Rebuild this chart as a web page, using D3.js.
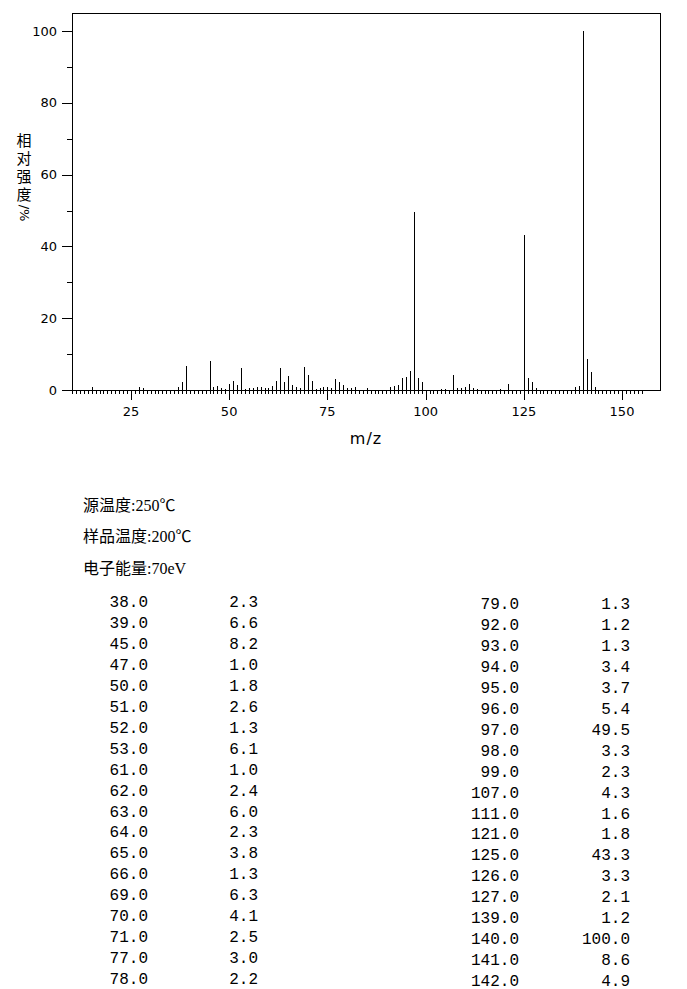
<!DOCTYPE html>
<html>
<head>
<meta charset="utf-8">
<script src="https://cdn.jsdelivr.net/npm/d3@7"></script>
<style>
  body { margin: 0; background: #fff; }
  svg { display: block; }
</style>
</head>
<body>
<div id="chart"></div>
<script>
// ----- data -----

// peaks listed in the table (m/z, relative intensity %)
let tableMz = [38, 39, 45, 47, 50, 51, 52, 53, 61, 62, 63, 64, 65, 66, 69, 70, 71, 77, 78,
               79, 92, 93, 94, 95, 96, 97, 98, 99, 107, 111, 121, 125, 126, 127, 139, 140, 141, 142];
let tableInt = [2.3, 6.6, 8.2, 1.0, 1.8, 2.6, 1.3, 6.1, 1.0, 2.4, 6.0, 2.3, 3.8, 1.3, 6.3, 4.1, 2.5, 3.0, 2.2,
                1.3, 1.2, 1.3, 3.4, 3.7, 5.4, 49.5, 3.3, 2.3, 4.3, 1.6, 1.8, 43.3, 3.3, 2.1, 1.2, 100.0, 8.6, 4.9];

// small peaks only seen in the spectrum
let minorMz = [15, 27, 28, 37, 46, 48, 49, 54, 55, 56, 57, 58, 59, 60, 67, 68, 72, 73, 74, 75, 76,
               80, 81, 82, 85, 91, 104, 105, 108, 109, 110, 112, 113, 119, 128, 138, 143];
let minorInt = [0.9, 0.9, 0.6, 0.9, 0.9, 0.5, 0.4, 0.4, 0.5, 0.5, 0.8, 0.8, 0.5, 0.5, 0.8, 0.5, 0.4, 0.5, 0.8, 0.7, 0.5,
                0.6, 0.6, 0.8, 0.6, 0.8, 0.4, 0.4, 0.5, 0.5, 0.7, 0.6, 0.4, 0.4, 0.5, 0.8, 0.8];

let yTicks = [0, 20, 40, 60, 80, 100];
let xTicks = [25, 50, 75, 100, 125, 150];

let infoLines = ["源温度:250℃", "样品温度:200℃", "电子能量:70eV"];

// ----- chart -----

let svgWidth = 687;
let svgHeight = 989;

let svg = d3.select("#chart")
    .append("svg")
    .attr("width", svgWidth)
    .attr("height", svgHeight);

let plotLeft = 72, plotRight = 660, plotTop = 13, base = 390;

let x = d3.scaleLinear().domain([10, 160]).range([72, 661.3]);
let y = d3.scaleLinear().domain([0, 100]).range([base, 31]);

let peaks = [];
for (let i = 0; i < tableMz.length; i++) peaks.push({ mz: tableMz[i], v: tableInt[i] });
for (let i = 0; i < minorMz.length; i++) peaks.push({ mz: minorMz[i], v: minorInt[i] });

let crisp = v => Math.round(v) + 0.5;

// frame
svg.append("path")
    .attr("d", `M${crisp(plotLeft)},${base + 4} V${crisp(plotTop)} H${crisp(plotRight)} V${crisp(base)}`)
    .attr("fill", "none")
    .attr("stroke", "#000")
    .attr("stroke-width", 1)
    .attr("shape-rendering", "crispEdges");

// y axis ticks
let yAll = d3.range(0, 101, 10);
svg.append("g")
    .selectAll("line")
    .data(yAll)
    .enter()
    .append("line")
    .attr("x1", d => d % 20 == 0 ? plotLeft - 10 : plotLeft - 5)
    .attr("x2", plotLeft)
    .attr("y1", d => crisp(y(d)))
    .attr("y2", d => crisp(y(d)))
    .attr("stroke", "#000")
    .attr("shape-rendering", "crispEdges");

svg.append("g")
    .selectAll("text")
    .data(yTicks)
    .enter()
    .append("text")
    .attr("x", 57)
    .attr("y", d => y(d))
    .attr("dy", "0.36em")
    .attr("text-anchor", "end")
    .style("font-family", "DejaVu Sans, sans-serif")
    .style("font-size", "13px")
    .text(d => d);

// baseline
svg.append("line")
    .attr("x1", plotLeft)
    .attr("x2", plotRight)
    .attr("y1", crisp(base))
    .attr("y2", crisp(base))
    .attr("stroke", "#000")
    .attr("shape-rendering", "crispEdges");

// x axis ticks: every unit, longer at labelled values
let xAll = d3.range(11, 156, 1);
svg.append("g")
    .selectAll("line")
    .data(xAll)
    .enter()
    .append("line")
    .attr("x1", d => crisp(x(d)))
    .attr("x2", d => crisp(x(d)))
    .attr("y1", base)
    .attr("y2", d => d % 25 == 0 ? base + 10 : base + 4)
    .attr("stroke", "#000")
    .attr("shape-rendering", "crispEdges");

svg.append("g")
    .selectAll("text")
    .data(xTicks)
    .enter()
    .append("text")
    .attr("x", d => x(d))
    .attr("y", 416)
    .attr("text-anchor", "middle")
    .style("font-family", "DejaVu Sans, sans-serif")
    .style("font-size", "13px")
    .text(d => d);

// peaks
svg.append("g")
    .selectAll("line")
    .data(peaks)
    .enter()
    .append("line")
    .attr("x1", d => crisp(x(d.mz)))
    .attr("x2", d => crisp(x(d.mz)))
    .attr("y1", base)
    .attr("y2", d => y(d.v))
    .attr("stroke", "#000")
    .attr("shape-rendering", "crispEdges");

// axis titles
svg.append("text")
    .attr("x", 366)
    .attr("y", 444)
    .attr("text-anchor", "middle")
    .style("font-family", "DejaVu Sans, sans-serif")
    .style("font-size", "16px")
    .style("letter-spacing", "1px")
    .text("m/z");

// vertical label: stacked upright characters in one text, "/%" turned
let yChars = ["相", "对", "强", "度"];
svg.append("text")
    .attr("x", 24)
    .attr("y", 146)
    .attr("text-anchor", "middle")
    .style("font-family", "Noto Sans CJK SC, sans-serif")
    .style("font-size", "15px")
    .selectAll("tspan")
    .data(yChars)
    .enter()
    .append("tspan")
    .attr("x", 24)
    .attr("dy", (d, i) => i == 0 ? 0 : 18)
    .text(d => d);

svg.append("text")
    .attr("transform", "translate(20,213) rotate(90)")
    .attr("text-anchor", "middle")
    .style("font-family", "DejaVu Sans, sans-serif")
    .style("font-size", "13px")
    .text("/%");

// info lines
svg.append("g")
    .selectAll("text")
    .data(infoLines)
    .enter()
    .append("text")
    .attr("x", 83)
    .attr("y", (d, i) => [511, 542, 574][i])
    .style("font-family", "Liberation Serif, Noto Sans CJK SC, serif")
    .style("font-size", "16px")
    .text(d => d);

// peak table
let leftRows = 19;
let mono = "Liberation Mono, Courier New, monospace";
let rowY = (i) => i < leftRows ? 607 + i * 20.95 : 609 + (i - leftRows) * 20.95;
let table = svg.append("g");

table.selectAll("text.mz")
    .data(tableMz)
    .enter()
    .append("text")
    .attr("class", "mz")
    .attr("x", (d, i) => i < leftRows ? 148 : 519)
    .attr("y", (d, i) => rowY(i))
    .attr("text-anchor", "end")
    .style("font-family", mono)
    .style("font-size", "16px")
    .text(d => d.toFixed(1));

table.selectAll("text.int")
    .data(tableInt)
    .enter()
    .append("text")
    .attr("class", "int")
    .attr("x", (d, i) => i < leftRows ? 258 : 630)
    .attr("y", (d, i) => rowY(i))
    .attr("text-anchor", "end")
    .style("font-family", mono)
    .style("font-size", "16px")
    .text(d => d.toFixed(1));
</script>
</body>
</html>
